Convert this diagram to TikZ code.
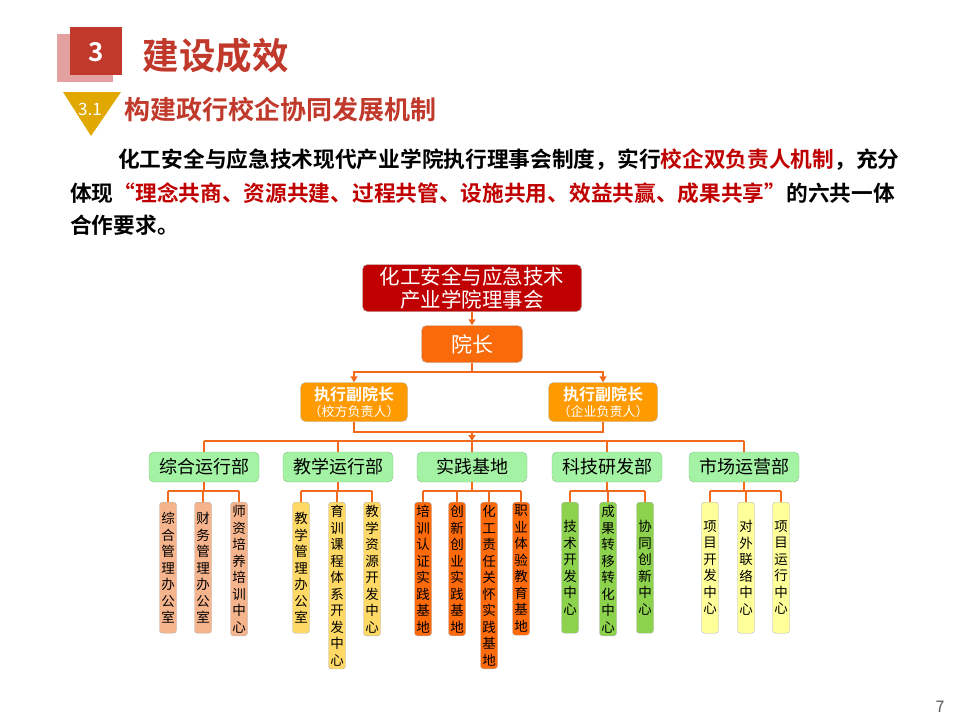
\documentclass[tikz,border=0pt]{standalone}
\usepackage{fontspec}
\setmainfont{Noto Sans CJK SC}[BoldFont={Noto Sans CJK SC Bold}]
\usetikzlibrary{arrows.meta}
\definecolor{hdred}{HTML}{C0392B}
\definecolor{hdpink}{HTML}{E3A2A0}
\definecolor{hdgold}{HTML}{E0A800}
\definecolor{txred}{HTML}{C00000}
\definecolor{wire}{HTML}{F26B1D}
\definecolor{board}{HTML}{C00000}
\definecolor{dean}{HTML}{F96A0A}
\definecolor{vice}{HTML}{FF9A00}
\definecolor{dept}{HTML}{A4F3A4}
\definecolor{leafA}{HTML}{F6B48C}
\definecolor{leafB}{HTML}{FFD966}
\definecolor{leafC}{HTML}{FF6A0A}
\definecolor{leafD}{HTML}{8CD24C}
\definecolor{leafE}{HTML}{FFFF99}
\newcommand{\fs}[2][]{\fontsize{#2pt}{\ifx\relax#1\relax#2\else#1\fi pt}\selectfont}

\begin{document}
\begin{tikzpicture}[x=1pt,y=-1pt,
	wirestyle/.style={wire,line width=2.2pt},
	arr/.style={wirestyle,-{Triangle[length=6pt,width=7pt]}},
	boxstyle/.style={rounded corners=5pt,draw=gray!60,inner sep=0pt,align=center},
	deptbox/.style={boxstyle,fill=dept,draw=green!50!black!50,minimum width=110pt,minimum height=30pt,font={\fs{18}}},
	leafbox/.style={boxstyle,rounded corners=3pt,anchor=north,text width=17pt,minimum height=131pt,font={\fs[16.5]{13.5}},inner ysep=3pt}
	]
	\useasboundingbox (0,0) rectangle (960,720);
	% header
	\fill[hdpink] (57,34) rectangle (113,82);
	\fill[hdred] (70,27) rectangle (122,75);
	\node[white,font={\fs{26}\bfseries}] (num) at (96,52) {3};
	\node[hdred,anchor=west,font={\fs{36.5}\bfseries}] (title) at (139,56) {建设成效};
	\fill[hdgold] (63,92) -- (121,92) -- (91,136) -- cycle;
	\node[white,font={\fs{17}}] (subnum) at (90,109) {3.1};
	\node[hdred,anchor=west,font={\fs{26}\bfseries}] (subtitle) at (121,110) {构建政行校企协同发展机制};
	% paragraph
	\node[anchor=west,font={\fs{21.7}\bfseries},inner sep=0pt] (p1) at (118,160) {化工安全与应急技术现代产业学院执行理事会制度，实行\textcolor{txred}{校企双负责人机制}，充分};
	\node[anchor=west,font={\fs{21.7}\bfseries},inner sep=0pt] (p2) at (70,193) {体现\textcolor{txred}{“理念共商、资源共建、过程共管、设施共用、效益共赢、成果共享”}的六共一体};
	\node[anchor=west,font={\fs{21.7}\bfseries},inner sep=0pt] (p3) at (70,225) {合作要求。};
	%
	\node[boxstyle,fill=board,text=white,minimum width=219pt,minimum height=47pt,font={\fs[23]{20.5}}] (board) at (472,288) {化工安全与应急技术\\产业学院理事会};
	\node[boxstyle,fill=dean,text=white,minimum width=101pt,minimum height=37pt,font={\fs{21}}] (dean) at (472,344) {院长};
	\node[boxstyle,fill=vice,text=white,minimum width=107pt,minimum height=39pt] (vl) at (354,402) {{\fs{16}\bfseries 执行副院长}\\[2pt]{\fs{13}（校方负责人）}};
	\node[boxstyle,fill=vice,text=white,minimum width=109pt,minimum height=39pt] (vr) at (603,402) {{\fs{16}\bfseries 执行副院长}\\[2pt]{\fs{13}（企业负责人）}};
	\draw[arr] (board) -- (dean);
	\coordinate (split) at (472,372);
	\draw[wirestyle] (dean) -- (split);
	\draw[arr] (split) -| (vl.north);
	\draw[arr] (split) -| (vr.north);
	\coordinate (join) at (472,432);
	\coordinate (bus) at (472,441);
	\draw[wirestyle] (vl.south) |- (join) -| (vr.south);
	\draw[arr] (join) -- (bus);
	%
	\node[deptbox] (d1) at (204,467) {综合运行部};
	\node[deptbox] (d2) at (338,467) {教学运行部};
	\node[deptbox] (d3) at (472,467) {实践基地};
	\node[deptbox] (d4) at (607,467) {科技研发部};
	\node[deptbox] (d5) at (744,467) {市场运营部};
	\draw[wirestyle] (bus -| d1.north) -- (bus -| d5.north);
	\foreach \d in {d1,d2,d3,d4,d5}
		\draw[wirestyle] (bus -| \d.north) -- (\d.north);
	%
	\node[leafbox,fill=leafA] (l11) at (168,502) {综\\合\\管\\理\\办\\公\\室};
	\node[leafbox,fill=leafA] (l12) at (203,502) {财\\务\\管\\理\\办\\公\\室};
	\node[leafbox,fill=leafA] (l13) at (239,502) {师\\资\\培\\养\\培\\训\\中\\心};
	\node[leafbox,fill=leafB] (l21) at (301,502) {教\\学\\管\\理\\办\\公\\室};
	\node[leafbox,fill=leafB] (l22) at (337,502) {育\\训\\课\\程\\体\\系\\开\\发\\中\\心};
	\node[leafbox,fill=leafB] (l23) at (372,502) {教\\学\\资\\源\\开\\发\\中\\心};
	\node[leafbox,fill=leafC] (l31) at (423,502) {培\\训\\认\\证\\实\\践\\基\\地};
	\node[leafbox,fill=leafC] (l32) at (457,502) {创\\新\\创\\业\\实\\践\\基\\地};
	\node[leafbox,fill=leafC] (l33) at (489,502) {化\\工\\责\\任\\关\\怀\\实\\践\\基\\地};
	\node[leafbox,fill=leafC] (l34) at (521,502) {职\\业\\体\\验\\教\\育\\基\\地};
	\node[leafbox,fill=leafD] (l41) at (570,502) {技\\术\\开\\发\\中\\心};
	\node[leafbox,fill=leafD] (l42) at (608,502) {成\\果\\转\\移\\转\\化\\中\\心};
	\node[leafbox,fill=leafD] (l43) at (645,502) {协\\同\\创\\新\\中\\心};
	\node[leafbox,fill=leafE] (l51) at (710,502) {项\\目\\开\\发\\中\\心};
	\node[leafbox,fill=leafE] (l52) at (746,502) {对\\外\\联\\络\\中\\心};
	\node[leafbox,fill=leafE] (l53) at (781,502) {项\\目\\运\\行\\中\\心};
	%
	\foreach \d/\a/\b/\leaves in {d1/l11/l13/{l11,l12,l13},d2/l21/l23/{l21,l22,l23},d3/l31/l34/{l31,l32,l33,l34},d4/l41/l43/{l41,l42,l43},d5/l51/l53/{l51,l52,l53}}{
		\coordinate (\d b) at ([yshift=-9pt]\d.south);
		\draw[wirestyle] (\d.south) -- (\d b);
		\draw[wirestyle] (\d b -| \a.north) -- (\d b -| \b.north);
		\foreach \l in \leaves
			\draw[wirestyle] (\d b -| \l.north) -- (\l.north);
	}
	\node[gray!70!black,font={\fs{16}}] (page) at (940,707) {7};
\end{tikzpicture}
\end{document}
